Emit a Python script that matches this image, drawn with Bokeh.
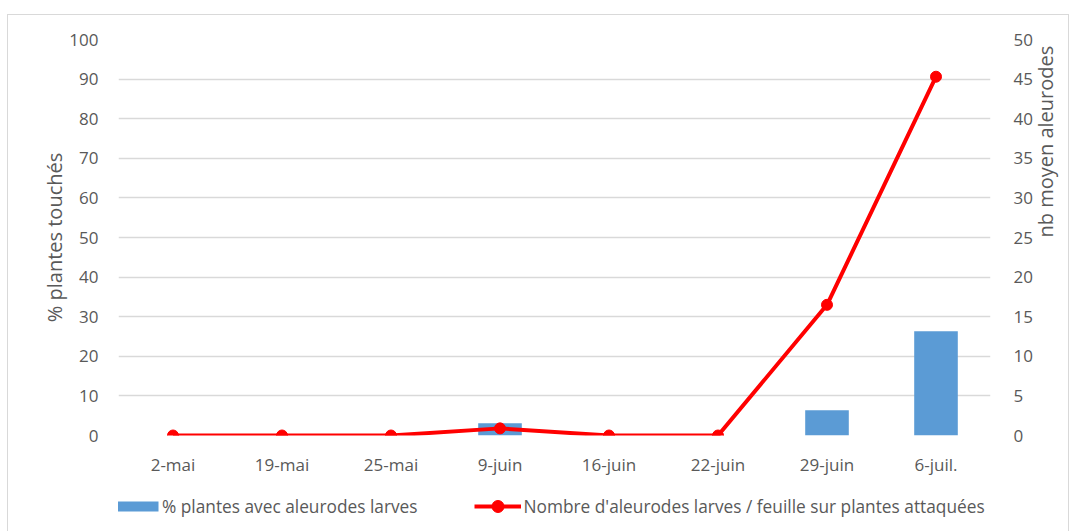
import math
from bokeh.plotting import figure
from bokeh.layouts import column
from bokeh.models import (FactorRange, Range1d, LinearAxis, FixedTicker, Legend,
                          LegendItem, ColumnDataSource, InlineStyleSheet)
from bokeh.embed import file_html
from bokeh.resources import INLINE

# Relevés d'aleurodes
dates = ["2-mai", "19-mai", "25-mai", "9-juin", "16-juin", "22-juin", "29-juin", "6-juil."]
pct_plantes = [0, 0, 0, 3.1, 0, 0, 6.4, 26.3]          # % plantes avec aleurodes larves
nb_larves = [0, 0, 0, 0.9, 0, 0, 16.5, 45.3]            # larves / feuille (axe droit)
left_ticks = list(range(0, 101, 10))
right_ticks = list(range(0, 51, 5))

FONT = "Open Sans"
TXT = "#595959"
GRID = "#d9d9d9"
BLUE = "#5b9bd5"
RED = "#ff0000"

W = 1075
H_MAIN = 486
H_LEG = 45

src = ColumnDataSource(dict(d=dates, pct=pct_plantes, nb=nb_larves))

# light frame around the whole chart (top/sides on the chart, sides on the legend strip)
main_css = InlineStyleSheet(css="""
:host::after {
  content: ""; position: absolute; left: 7px; top: 14px;
  width: 1062px; height: 472px; box-sizing: border-box;
  border: 1.5px solid #d9d9d9; border-bottom: none; pointer-events: none;
}
""")
leg_css = InlineStyleSheet(css="""
:host::after {
  content: ""; position: absolute; left: 7px; top: 0px;
  width: 1062px; height: 45px; box-sizing: border-box;
  border-left: 1.5px solid #d9d9d9; border-right: 1.5px solid #d9d9d9;
  pointer-events: none;
}
""")

p = figure(width=W, height=H_MAIN, x_range=FactorRange(*dates, range_padding=0),
           y_range=Range1d(0, 100), output_backend="svg", toolbar_location=None,
           min_border_left=118, min_border_right=85, min_border_top=39,
           min_border_bottom=51, stylesheets=[main_css])
p.extra_y_ranges = {"nb": Range1d(0, 50)}
p.outline_line_color = None
p.background_fill_color = "white"
p.border_fill_color = "white"

# axes
p.yaxis.ticker = FixedTicker(ticks=left_ticks)
p.yaxis.axis_label = "% plantes touchés"
ax_r = LinearAxis(y_range_name="nb", ticker=FixedTicker(ticks=right_ticks),
                  axis_label="nb moyen aleurodes")
p.add_layout(ax_r, "right")

for ax in [p.yaxis[0], ax_r, p.xaxis[0]]:
    ax.axis_line_color = None
    ax.major_tick_line_color = None
    ax.minor_tick_line_color = None
    ax.major_label_text_font = FONT
    ax.major_label_text_font_size = "17px"
    ax.major_label_text_color = TXT
    ax.axis_label_text_font = FONT
    ax.axis_label_text_font_size = "20px"
    ax.axis_label_text_color = TXT
    ax.axis_label_text_font_style = "normal"

p.yaxis[0].major_label_standoff = 14
p.yaxis[0].axis_label_standoff = -2
ax_r.major_label_standoff = 17
ax_r.axis_label_standoff = 10
ax_r.axis_label_orientation = math.pi / 2
p.xaxis[0].major_label_standoff = 11

p.xgrid.grid_line_color = None
p.ygrid.grid_line_color = GRID
p.ygrid.grid_line_width = 1.5
p.ygrid.ticker = FixedTicker(ticks=left_ticks)

# bars (left axis) and line (right axis)
p.vbar(x="d", top="pct", width=0.4, source=src, fill_color=BLUE, line_color=None)
p.line(x="d", y="nb", source=src, line_color=RED, line_width=4, y_range_name="nb")
p.scatter(x="d", y="nb", source=src, size=11, fill_color=RED, line_color=RED,
          y_range_name="nb")

# legend strip under the chart (its frame lines up with the chart frame)
lg = figure(width=W, height=H_LEG, x_range=Range1d(0, 1), y_range=Range1d(0, 1),
            x_axis_type=None, y_axis_type=None, output_backend="svg",
            toolbar_location=None, min_border=0, stylesheets=[leg_css])
lg.outline_line_color = None
lg.grid.grid_line_color = None
lg.background_fill_alpha = 0
lg.border_fill_alpha = 0

off = [-5, -4]  # keys sit outside the visible range; only their legend glyphs show
sw_bar = lg.line(x=off, y=off, line_color=BLUE, line_width=10, line_dash="0 4 42 100")
sw_line = lg.line(x=off, y=off, line_color=RED, line_width=4)
sw_pts = lg.scatter(x=off, y=off, fill_color=RED, line_color=RED)

legend = Legend(items=[LegendItem(label="% plantes avec aleurodes larves", renderers=[sw_bar]),
                       LegendItem(label="Nombre d'aleurodes larves / feuille sur plantes attaquées",
                                  renderers=[sw_line, sw_pts])],
                location=(-6, 10), orientation="horizontal",
                glyph_width=47, glyph_height=30, label_standoff=3,
                spacing=56, padding=0, margin=0,
                border_line_color=None, background_fill_alpha=0,
                label_text_font=FONT, label_text_font_size="17.3px",
                label_text_color=TXT)
lg.add_layout(legend, "center")

page = column(p, lg, spacing=0)
open("out.html", "w").write(file_html(page, INLINE))
